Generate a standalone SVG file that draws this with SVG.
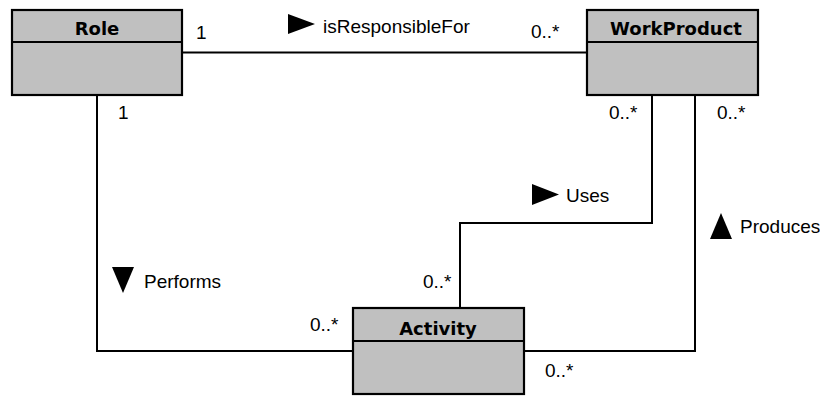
<svg xmlns="http://www.w3.org/2000/svg" width="820" height="396" viewBox="0 0 820 396">
<style>
.box{fill:#c0c0c0;stroke:#000;stroke-width:2.2}
.div{stroke:#000;stroke-width:2.2}
.title{font-family:"DejaVu Sans",sans-serif;font-weight:bold;font-size:18px;text-anchor:middle;fill:#000}
.lbl{font-family:"Liberation Sans",Arial,sans-serif;font-size:19px;fill:#000}
.ln{fill:none;stroke:#000;stroke-width:2}
.tri{fill:#000}
</style>
<rect width="820" height="396" fill="#fff"/>
<g id="connectors">
<path class="ln" d="M182,52.5 H587"/>
<path class="ln" d="M97,95 V351 H352"/>
<path class="ln" d="M652,95 V223 H460 V308"/>
<path class="ln" d="M695,95 V351 H524"/>
</g>
<g id="labels">
<polygon class="tri" points="288,14 315,24 288,34"/>
<text class="lbl" x="323" y="33">isResponsibleFor</text>
<text class="lbl" x="196" y="39">1</text>
<text class="lbl" x="531" y="38">0..*</text>
<text class="lbl" x="118" y="119">1</text>
<text class="lbl" x="609" y="119">0..*</text>
<text class="lbl" x="717" y="119">0..*</text>
<polygon class="tri" points="532,184 559,194.5 532,205"/>
<text class="lbl" x="566" y="202">Uses</text>
<polygon class="tri" points="710,239 732,239 721,213"/>
<text class="lbl" x="740" y="233">Produces</text>
<polygon class="tri" points="112,267 134,267 123,293"/>
<text class="lbl" x="144" y="288">Performs</text>
<text class="lbl" x="423" y="288">0..*</text>
<text class="lbl" x="310" y="331">0..*</text>
<text class="lbl" x="545" y="377">0..*</text>
</g>
<g id="Role">
<rect class="box" x="12" y="10" width="170" height="85"/>
<line class="div" x1="12" y1="42" x2="182" y2="42"/>
<text class="title" x="97" y="35">Role</text>
</g>
<g id="WorkProduct">
<rect class="box" x="587" y="10" width="171" height="85"/>
<line class="div" x1="587" y1="42" x2="758" y2="42"/>
<text class="title" x="676" y="35">WorkProduct</text>
</g>
<g id="Activity">
<rect class="box" x="353" y="308" width="171" height="86"/>
<line class="div" x1="353" y1="341" x2="524" y2="341"/>
<text class="title" x="438" y="335">Activity</text>
</g>
</svg>
